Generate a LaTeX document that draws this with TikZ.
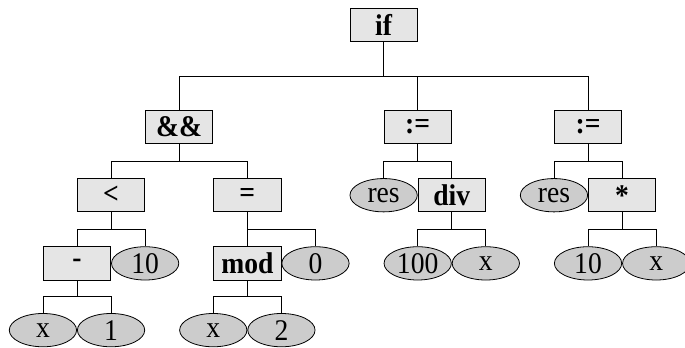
\documentclass[tikz,border=0pt]{standalone}
\usepackage{fontspec}
\setmainfont{Liberation Serif}[FakeStretch=0.92]
\usetikzlibrary{shapes.geometric,calc}

\begin{document}
\begin{tikzpicture}[x=34.07pt,y=-34.07pt,line width=0.8pt,
   font=\fontsize{30pt}{33pt}\selectfont,
   op/.style={draw,fill=gray!20,inner sep=0pt,minimum width=67.3pt,minimum height=33.3pt,
     font=\fontsize{30pt}{33pt}\selectfont\bfseries},
   leaf/.style={draw,ellipse,fill=gray!40,inner sep=0pt,minimum width=67.3pt,minimum height=33.3pt},
   branch/.style={to path={(\tikztostart.south) |- ($(\tikztostart.south)!.5!(\tikztotarget.north)$) -| (\tikztotarget.north)}}]
\useasboundingbox (0,0) rectangle (20.106,10.214);
\node[op] (ifop) at (11.26,0.74) {if};
\node[op] (andop) at (5.26,3.73) {\&\&};
\node[op] (asgA) at (12.26,3.73) {:=};
\node[op] (asgB) at (17.26,3.73) {:=};
\node[op] (lt) at (3.26,5.73) {<};
\node[op] (eq) at (7.26,5.73) {=};
\node[leaf] (resA) at (11.26,5.73) {res};
\node[op] (divop) at (13.26,5.73) {div};
\node[leaf] (resB) at (16.26,5.73) {res};
\node[op] (mul) at (18.26,5.73) {*};
\node[op] (minus) at (2.26,7.73) {-};
\node[leaf] (tenA) at (4.26,7.73) {10};
\node[op] (modop) at (7.26,7.73) {mod};
\node[leaf] (zero) at (9.26,7.73) {0};
\node[leaf] (hund) at (12.26,7.73) {100};
\node[leaf] (xA) at (14.26,7.73) {x};
\node[leaf] (tenB) at (17.26,7.73) {10};
\node[leaf] (xB) at (19.26,7.73) {x};
\node[leaf] (xC) at (1.26,9.69) {x};
\node[leaf] (one) at (3.26,9.69) {1};
\node[leaf] (xD) at (6.26,9.69) {x};
\node[leaf] (two) at (8.26,9.69) {2};

\draw (ifop) to[branch] (andop);
\draw (ifop) to[branch] (asgA);
\draw (ifop) to[branch] (asgB);
\draw (andop) to[branch] (lt);
\draw (andop) to[branch] (eq);
\draw (asgA) to[branch] (resA);
\draw (asgA) to[branch] (divop);
\draw (asgB) to[branch] (resB);
\draw (asgB) to[branch] (mul);
\draw (lt) to[branch] (minus);
\draw (lt) to[branch] (tenA);
\draw (eq) to[branch] (modop);
\draw (eq) to[branch] (zero);
\draw (divop) to[branch] (hund);
\draw (divop) to[branch] (xA);
\draw (mul) to[branch] (tenB);
\draw (mul) to[branch] (xB);
\draw (minus) to[branch] (xC);
\draw (minus) to[branch] (one);
\draw (modop) to[branch] (xD);
\draw (modop) to[branch] (two);
\end{tikzpicture}
\end{document}
